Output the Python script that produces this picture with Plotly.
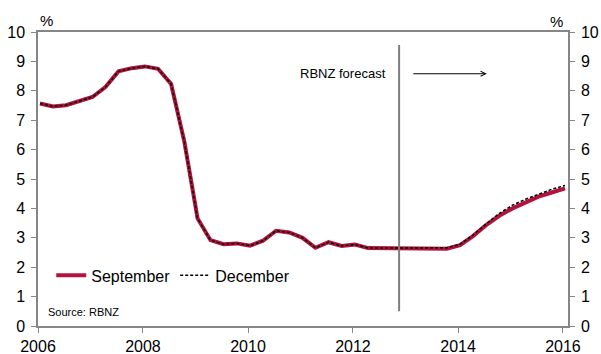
import plotly.graph_objects as go

# Quarterly dates (2006Q1 .. 2016Q1)
dates = [f"{y}-{m:02d}-15" for y in range(2006, 2016) for m in (1, 4, 7, 10)] + ["2016-01-15"]

september = [7.57, 7.47, 7.51, 7.65, 7.79, 8.13, 8.66, 8.77, 8.83, 8.75,
             8.23, 6.27, 3.66, 2.92, 2.78, 2.81, 2.73, 2.90, 3.24, 3.18,
             3.00, 2.66, 2.85, 2.72, 2.77, 2.65, 2.65, 2.65, 2.65, 2.65,
             2.65, 2.63, 2.75, 3.06, 3.43, 3.75, 4.00, 4.20, 4.40, 4.54, 4.68]
december = [7.57, 7.47, 7.51, 7.65, 7.79, 8.13, 8.66, 8.77, 8.83, 8.75,
            8.23, 6.27, 3.66, 2.92, 2.78, 2.81, 2.73, 2.90, 3.24, 3.18,
            3.00, 2.66, 2.85, 2.72, 2.77, 2.65, 2.65, 2.65, 2.65, 2.65,
            2.65, 2.66, 2.78, 3.09, 3.47, 3.83, 4.11, 4.31, 4.48, 4.65, 4.78]

forecast_start = "2012-11-17"
y_ticks = list(range(0, 11))

FONT = "Arial, Liberation Sans, sans-serif"
GRAY = "#868686"
RED = "#B2123D"

fig = go.Figure()
fig.add_trace(go.Scatter(x=dates, y=september, mode="lines", name="September",
                         line=dict(color=RED, width=4)))
fig.add_trace(go.Scatter(x=dates, y=december, mode="lines", name="December",
                         line=dict(color="black", width=1.5, dash="3px,2px")))
# invisible trace so the right-hand axis is drawn
fig.add_trace(go.Scatter(x=dates, y=september, yaxis="y2", mode="lines",
                         line=dict(width=0), opacity=0, showlegend=False,
                         hoverinfo="skip"))

fig.add_shape(type="line", x0=forecast_start, x1=forecast_start, y0=0.5, y1=9.56,
              xref="x", yref="y", line=dict(color="#7f7f7f", width=2))

fig.add_annotation(x="2014-07-20", y=8.58, ax="2013-02-14", ay=8.58,
                   xref="x", yref="y", axref="x", ayref="y",
                   showarrow=True, arrowhead=5, arrowsize=1, arrowwidth=1,
                   arrowcolor="black", text="")
fig.add_annotation(x="2011-10-26", y=8.58, xref="x", yref="y", text="RBNZ forecast",
                   xanchor="center", yanchor="middle",
                   showarrow=False, font=dict(family=FONT, size=13, color="black"))

fig.add_annotation(x=0.0164, y=1.04, xref="paper", yref="paper", text="%",
                   xanchor="center", yanchor="middle",
                   showarrow=False, font=dict(family=FONT, size=15, color="black"))
fig.add_annotation(x=0.979, y=1.035, xref="paper", yref="paper", text="%",
                   xanchor="center", yanchor="middle",
                   showarrow=False, font=dict(family=FONT, size=15, color="black"))
fig.add_annotation(x=0.0145, y=0.047, xref="paper", yref="paper", text="Source: RBNZ",
                   xanchor="left", yanchor="middle", showarrow=False,
                   font=dict(family=FONT, size=11, color="black"))

axis_common = dict(showgrid=False, zeroline=False, showline=True, linecolor=GRAY,
                   linewidth=1.5, ticks="outside", ticklen=5, tickcolor=GRAY,
                   automargin=False,
                   tickfont=dict(family=FONT, size=16, color="black"))

fig.update_layout(
    width=601, height=354,
    margin=dict(l=38, r=33, t=32, b=28),
    paper_bgcolor="white", plot_bgcolor="white",
    font=dict(family=FONT, color="black"),
    showlegend=True,
    legend=dict(orientation="h", x=0.025, y=0.172, xanchor="left", yanchor="middle",
                bgcolor="rgba(0,0,0,0)", font=dict(family=FONT, size=16, color="black"),
                itemwidth=30, tracegroupgap=0),
    xaxis=dict(type="date", range=["2006-01-01", "2016-02-05"], dtick="M24",
               tick0="2006-01-01", tickformat="%Y", mirror=True, **axis_common),
    yaxis=dict(range=[0, 10], tickvals=y_ticks, ticklabelstandoff=3, **axis_common),
    yaxis2=dict(range=[0, 10], tickvals=y_ticks, overlaying="y", side="right",
                ticklabelstandoff=3, **axis_common),
)

fig.write_html("out.html")
